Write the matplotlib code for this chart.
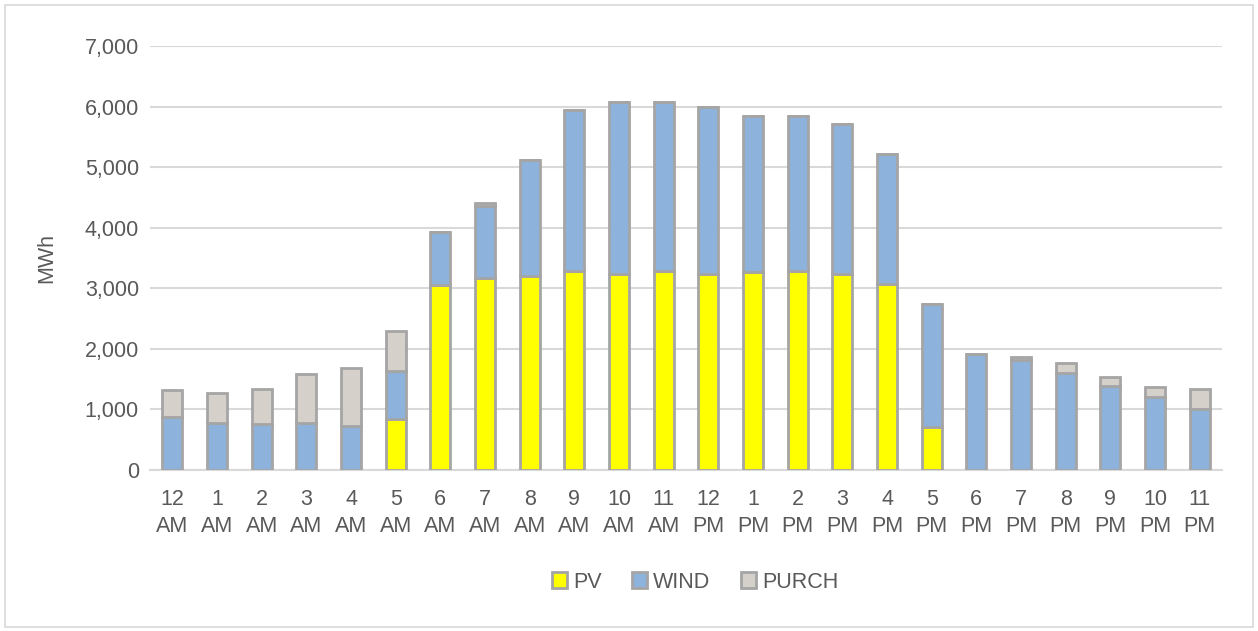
import numpy as np
import matplotlib.pyplot as plt
from matplotlib.patches import Rectangle

hours = ['12\nAM', '1\nAM', '2\nAM', '3\nAM', '4\nAM', '5\nAM', '6\nAM', '7\nAM',
         '8\nAM', '9\nAM', '10\nAM', '11\nAM', '12\nPM', '1\nPM', '2\nPM', '3\nPM',
         '4\nPM', '5\nPM', '6\nPM', '7\nPM', '8\nPM', '9\nPM', '10\nPM', '11\nPM']

# MWh
pv = [0, 0, 0, 0, 0, 850, 3050, 3170, 3200, 3290, 3240, 3290,
      3240, 3270, 3290, 3240, 3070, 710, 0, 0, 0, 0, 0, 0]
total_wind = [880, 780, 760, 780, 730, 1640, 3930, 4360, 5120, 5940, 6070, 6070,
              5990, 5840, 5840, 5710, 5220, 2740, 1920, 1820, 1600, 1390, 1200, 1010]
total = [1320, 1270, 1340, 1590, 1690, 2300, 3930, 4400, 5120, 5940, 6070, 6070,
         5990, 5840, 5840, 5710, 5220, 2740, 1920, 1870, 1770, 1540, 1370, 1330]

wind = [w - p for w, p in zip(total_wind, pv)]
purch = [t - w for t, w in zip(total, total_wind)]

plt.rcParams['font.family'] = ['Liberation Sans', 'DejaVu Sans']
txt = '#595959'
grid = '#D9D9D9'
edge = '#A5A5A5'
fs = 15.5

fig = plt.figure(figsize=(12.58, 6.31), dpi=100)
ax = fig.add_axes([150 / 1258, 1 - 470 / 631, 1072 / 1258, 424 / 631])

x = np.arange(len(hours))
w = 0.45
ax.bar(x, pv, w, color='#FFFF00', edgecolor=edge, linewidth=2, label='PV', zorder=3)
ax.bar(x, wind, w, bottom=pv, color='#8DB3DD', edgecolor=edge, linewidth=2,
       label='WIND', zorder=3)
ax.bar(x, purch, w, bottom=total_wind, color='#D5D0CA', edgecolor=edge, linewidth=2,
       label='PURCH', zorder=3)

ax.set_xlim(-0.5, len(hours) - 0.5)
ax.set_ylim(0, 7000)
ax.set_yticks(np.arange(0, 7001, 1000))
ax.set_yticklabels(['{:,}'.format(v) for v in range(0, 7001, 1000)])
ax.set_xticks(x)
ax.set_xticklabels(hours, linespacing=1.35)
ax.tick_params(axis='both', length=0, labelsize=fs, colors=txt)
ax.tick_params(axis='x', pad=14)
ax.tick_params(axis='y', pad=8)
ax.grid(axis='y', color=grid, linewidth=1.5, zorder=0)
for s in ['top', 'right', 'left']:
    ax.spines[s].set_visible(False)
ax.spines['bottom'].set_color(grid)
ax.spines['bottom'].set_linewidth(1.5)
ax.set_ylabel('MWh', fontsize=fs, color=txt, labelpad=20)

leg = fig.legend(loc='center', bbox_to_anchor=(695 / 1258, 1 - 582 / 631), ncol=3,
                 frameon=False, fontsize=fs, handlelength=0.7, handleheight=0.7,
                 handletextpad=0.3, columnspacing=1.4)
for t in leg.get_texts():
    t.set_color(txt)

fig.patches.append(Rectangle((5 / 1258, 4 / 631), 1248 / 1258, 622 / 631,
                             transform=fig.transFigure, fill=False,
                             edgecolor='#D9D9D9', linewidth=1.2))

fig.savefig('out.png', dpi=100)
